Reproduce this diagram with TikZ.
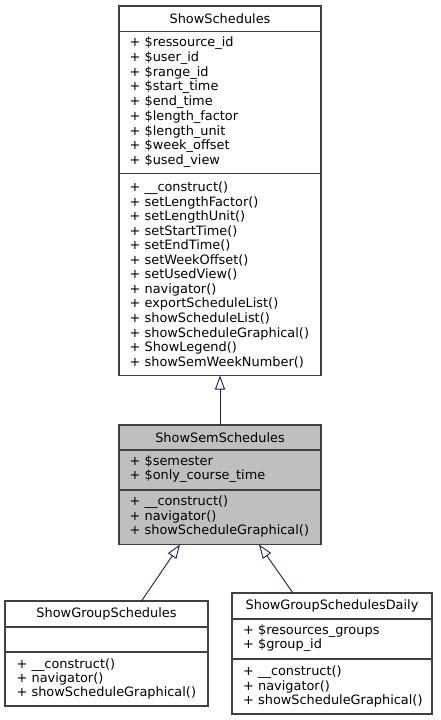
\documentclass[tikz,border=0pt]{standalone}
\usepackage{fontspec}
\setmainfont{DejaVu Sans}
\usetikzlibrary{arrows.meta}
\definecolor{edgeblue}{HTML}{191970}
\definecolor{boxline}{HTML}{404040}
\definecolor{semgray}{HTML}{BFBFBF}
\tikzset{
  cls/.style={draw=boxline, line width=1.2pt, fill=white, inner sep=0pt, outer sep=0pt},
  sepline/.style={draw=boxline, line width=1.2pt},
  ttl/.style={inner sep=0pt, font=\fontsize{12.9}{14.5}\selectfont},
  mem/.style={inner sep=0pt, anchor=west, align=left, font=\fontsize{12.9}{14.2}\selectfont},
  memA/.style={mem, font=\fontsize{12.9}{14.7}\selectfont},
  memB/.style={mem, font=\fontsize{12.9}{14.55}\selectfont},
  inh/.style={draw=edgeblue, line width=0.9pt, -{Triangle[length=14pt, width=10pt, fill=white, line width=0.9pt]}},
}
\begin{document}
\begin{tikzpicture}[x=1pt, y=-1pt]
\useasboundingbox (0,0) rectangle (440,720);
% ShowSchedules
\node[cls, minimum width=202pt, minimum height=369.5pt] (ss) at (220,190.75) {};
\draw[sepline] (ss.west |- 0,31.5) -- (ss.east |- 0,31.5);
\draw[sepline] (ss.west |- 0,173.5) -- (ss.east |- 0,173.5);
\node[ttl] (sst) at (220,18.75) {ShowSchedules};
\node[memA] (ssa) at (129.5,102.3) {+ \$ressource\_id\\+ \$user\_id\\+ \$range\_id\\+ \$start\_time\\+ \$end\_time\\+ \$length\_factor\\+ \$length\_unit\\+ \$week\_offset\\+ \$used\_view};
\node[memB] (ssm) at (129.5,274.8) {+ \_\_construct()\\+ setLengthFactor()\\+ setLengthUnit()\\+ setStartTime()\\+ setEndTime()\\+ setWeekOffset()\\+ setUsedView()\\+ navigator()\\+ exportScheduleList()\\+ showScheduleList()\\+ showScheduleGraphical()\\+ ShowLegend()\\+ showSemWeekNumber()};
% ShowSemSchedules
\node[cls, fill=semgray, minimum width=202pt, minimum height=119.5pt] (sem) at (220,484.75) {};
\draw[sepline] (sem.west |- 0,450) -- (sem.east |- 0,450);
\draw[sepline] (sem.west |- 0,490) -- (sem.east |- 0,490);
\node[ttl] (semt) at (220,437.5) {ShowSemSchedules};
\node[mem] (sema) at (129.5,469) {+ \$semester\\+ \$only\_course\_time};
\node[mem] (semm) at (129.5,516.5) {+ \_\_construct()\\+ navigator()\\+ showScheduleGraphical()};
% ShowGroupSchedules
\node[cls, minimum width=203pt, minimum height=105pt] (grp) at (106.5,653.5) {};
\draw[sepline] (grp.west |- 0,627) -- (grp.east |- 0,627);
\draw[sepline] (grp.west |- 0,652) -- (grp.east |- 0,652);
\node[ttl] (grpt) at (106.5,614) {ShowGroupSchedules};
\node[mem] (grpm) at (16.5,679) {+ \_\_construct()\\+ navigator()\\+ showScheduleGraphical()};
% ShowGroupSchedulesDaily
\node[cls, minimum width=200pt, minimum height=121pt] (day) at (332,653.5) {};
\draw[sepline] (day.west |- 0,619) -- (day.east |- 0,619);
\draw[sepline] (day.west |- 0,659) -- (day.east |- 0,659);
\node[ttl] (dayt) at (332,606) {ShowGroupSchedulesDaily};
\node[mem] (daya) at (243,638.5) {+ \$resources\_groups\\+ \$group\_id};
\node[mem] (daym) at (243,686.5) {+ \_\_construct()\\+ navigator()\\+ showScheduleGraphical()};
% inheritance arrows
\draw[inh] (sem.north) -- (ss.south);
\draw[inh] ([xshift=136.5pt]grp.north west) -- ([xshift=61pt]sem.south west);
\draw[inh] ([xshift=61pt]day.north west) -- ([xshift=140pt]sem.south west);
\end{tikzpicture}
\end{document}
